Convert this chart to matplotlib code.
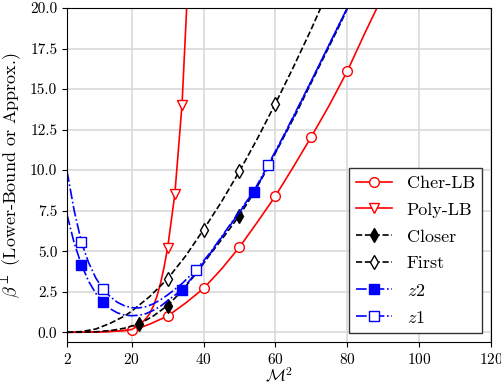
import numpy as np
import matplotlib
matplotlib.use('Agg')
import matplotlib.pyplot as plt

plt.rcParams['font.family'] = 'cmr10'
plt.rcParams['mathtext.fontset'] = 'cm'
plt.rcParams['axes.formatter.use_mathtext'] = True

# Cher-LB
cher_x = [2, 6, 10, 14, 18, 20, 22, 25, 30, 35, 40, 45, 50, 55, 60, 65, 70, 75, 80, 85, 90]
cher_y = [0, 0.003, 0.015, 0.05, 0.11, 0.15, 0.25, 0.5, 1.0, 1.8, 2.7, 3.9, 5.25, 6.8, 8.4,
          10.2, 12.06, 14.0, 16.1, 18.5, 20.8]
cher_mk = [20, 30, 40, 50, 60, 70, 80]

# Poly-LB
poly_x = [2, 6, 10, 14, 18, 20, 21, 22, 23, 24, 25, 26, 27, 28, 29, 30, 32, 34, 36]
poly_y = [0, 0.003, 0.015, 0.05, 0.11, 0.17, 0.3, 0.45, 0.62, 0.85, 1.15, 1.6, 2.2, 3.0,
          4.0, 5.2, 8.5, 14.0, 23.2]
poly_mk = [30, 32, 34]

# Closer
closer_x = [2, 6, 10, 14, 18, 20, 22, 26, 30, 34, 38, 42, 46, 50, 54, 58, 62, 66, 70, 74, 78, 82]
closer_y = [0, 0.005, 0.03, 0.1, 0.25, 0.38, 0.5, 1.0, 1.65, 2.55, 3.65, 4.85, 6.0, 7.2,
            8.6, 10.2, 11.9, 13.6, 15.4, 17.2, 19.0, 20.9]
closer_mk = [22, 30, 50]

# First
first_x = [2, 6, 10, 14, 18, 20, 25, 30, 35, 40, 45, 50, 55, 60, 65, 70, 75]
first_y = [0, 0.04, 0.2, 0.55, 1.0, 1.3, 2.2, 3.3, 4.7, 6.33, 8.05, 9.93, 11.95, 14.1,
           16.35, 18.7, 21.2]
first_mk = [30, 40, 50, 60]

# z2
z2_x = [2, 4, 6, 8, 10, 12, 14, 16, 18, 20, 22, 24, 26, 28, 30, 34, 38, 42, 46, 50,
        54, 58, 62, 66, 70, 74, 78, 82]
z2_y = [7.25, 5.5, 4.17, 3.15, 2.4, 1.84, 1.45, 1.2, 1.06, 1.02, 1.05, 1.15, 1.35, 1.6,
        1.95, 2.62, 3.7, 4.9, 6.15, 7.4, 8.63, 10.25, 11.95, 13.7, 15.5, 17.3, 19.1, 20.9]
z2_mk = [6, 12, 34, 54]

# z1
z1_x = [2, 4, 6, 8, 10, 12, 14, 16, 18, 20, 22, 24, 26, 28, 30, 34, 38, 42, 46, 50,
        54, 58, 62, 66, 70, 74, 78, 82]
z1_y = [9.93, 7.5, 5.57, 4.3, 3.35, 2.67, 2.2, 1.85, 1.63, 1.52, 1.5, 1.58, 1.75, 2.0,
        2.3, 3.0, 3.86, 4.95, 6.2, 7.45, 8.7, 10.34, 12.0, 13.75, 15.5, 17.3, 19.1, 20.9]
z1_mk = [6, 12, 38, 58]

x_ticks = [2, 20, 40, 60, 80, 100, 120]


def marks(xs, mk):
    return [i for i, v in enumerate(xs) if v in mk]


fig = plt.figure(figsize=(5.02, 3.84), dpi=100)
ax = fig.add_axes([0.1335, 0.1094, 0.8445, 0.8698])

lw = 1.2
ms = 7
ax.plot(cher_x, cher_y, '-', color='red', lw=lw, marker='o', ms=ms, mfc='white',
        mec='red', markevery=marks(cher_x, cher_mk), label='Cher-LB')
ax.plot(poly_x, poly_y, '-', color='red', lw=lw, marker='v', ms=ms, mfc='white',
        mec='red', markevery=marks(poly_x, poly_mk), label='Poly-LB')
ax.plot(closer_x, closer_y, '--', color='black', lw=lw, marker='d', ms=ms, mfc='black',
        mec='black', markevery=marks(closer_x, closer_mk), label='Closer')
ax.plot(first_x, first_y, '--', color='black', lw=lw, marker='d', ms=ms, mfc='white',
        mec='black', markevery=marks(first_x, first_mk), label='First')
ax.plot(z2_x, z2_y, '-.', color='blue', lw=lw, marker='s', ms=ms, mfc='blue',
        mec='blue', markevery=marks(z2_x, z2_mk), label='$z2$')
ax.plot(z1_x, z1_y, '-.', color='blue', lw=lw, marker='s', ms=ms, mfc='white',
        mec='blue', markevery=marks(z1_x, z1_mk), label='$z1$')

ax.set_xlim(2, 120)
ax.set_ylim(-0.6, 20)
ax.set_xticks(x_ticks)
ax.tick_params(labelsize=11)
ax.yaxis.set_major_formatter(matplotlib.ticker.FormatStrFormatter('%.1f'))
ax.grid(True, color='#d9d9d9', lw=1.2)
ax.set_axisbelow(True)
ax.set_xlabel(r'$\mathcal{M}^2$', fontsize=12, labelpad=-1)
ax.set_ylabel(r'$\beta^{\perp}$ (Lower-Bound or Approx.)', fontsize=13)

leg = ax.legend(loc='lower right', fontsize=13, fancybox=False, framealpha=1,
                edgecolor='#333333', handlelength=2.0, borderaxespad=0.5,
                labelspacing=0.62)
leg.get_frame().set_linewidth(1.0)

fig.savefig('out.png', dpi=100)
